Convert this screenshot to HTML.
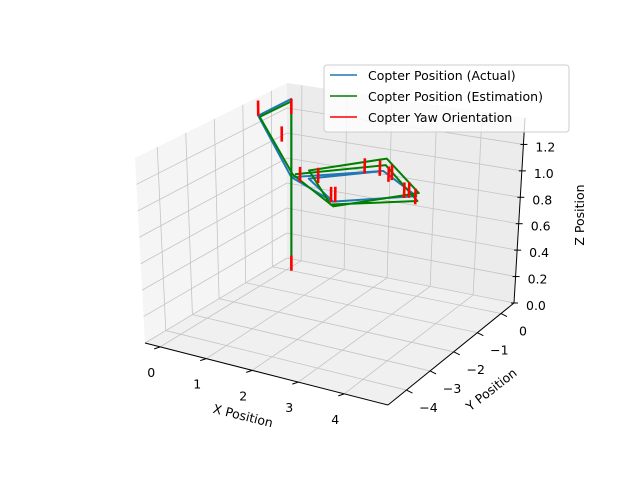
<!DOCTYPE html>
<html><head><meta charset="utf-8"><style>
body{margin:0;background:#fff}
svg text{font-family:"DejaVu Sans","Liberation Sans",sans-serif;font-size:12.5px;fill:#000}
</style></head><body>
<svg id="chart" width="640" height="480" viewBox="0 0 640 480" xmlns="http://www.w3.org/2000/svg">
<g id="panes"></g>
<g id="grid"></g>
<g id="axes"></g>
<g id="series"></g>
<g id="legend">
<rect x="324" y="65" width="245" height="67" rx="3" fill="#fff" fill-opacity="0.8" stroke="#ccc"/>
<line x1="330" y1="75" x2="357" y2="75" stroke="#1f77b4" stroke-width="1.5"/>
<text x="368" y="80">Copter Position (Actual)</text>
<line x1="330" y1="96" x2="357" y2="96" stroke="#008000" stroke-width="1.5"/>
<text x="368" y="101">Copter Position (Estimation)</text>
<line x1="330" y1="117" x2="357" y2="117" stroke="#ff0000" stroke-width="1.5"/>
<text x="368" y="122">Copter Yaw Orientation</text>
</g>
</svg>
<script>
const xTicks=[0,1,2,3,4];
const yTicks=[-4,-3,-2,-1,0];
const zTicks=[0,0.2,0.4,0.6,0.8,1.0,1.2];
const zTickLabels=["0.0","0.2","0.4","0.6","0.8","1.0","1.2"];
const actX=[0.11,0.11,-0.14,0.11,1.57,2.87,1.57,0.49,1.57,2.87,1.57,0.11];
const actY=[0,0,-0.77,0,-0.88,0.09,1.02,0.02,-0.88,0.09,1.02,0];
const actZ=[0,1.36,1.3,0.74,0.75,0.75,0.75,0.75,0.75,0.75,0.75,0.74];
const estX=[0.11,0.11,-0.12,0.13,1.6,2.9,1.6,0.44,1.54,2.92,1.63,0.16];
const estY=[0,0,-0.75,0.02,-0.92,0.13,1.09,0.11,-0.92,0.05,1.01,0.05];
const estZ=[0,1.34,1.29,0.76,0.72,0.77,0.84,0.8,0.73,0.72,0.8,0.76];
const yawX=[0.11,0.11,-0.14,-0.06,0.33,0.67,1.45,1.52,1.2,1.54,1.87,1.88,2.6,2.68,2.9];
const yawY=[0,0,-0.77,-0.07,-0.04,0.07,-0.75,-0.71,0.93,0.94,0.72,0.83,0.08,0.13,0.0];
const yawZ=[0,1.24,1.3,1.02,0.72,0.72,0.72,0.72,0.72,0.72,0.72,0.72,0.72,0.72,0.7];
const yawLen=0.12;

const xr=[-0.33,4.95], yr=[-4.78,0.55], zr=[0,1.4];
const C={c000:[145,343],c100:[388,405],c110:[514,303],c010:[287,258],
         c001:[135,158],c101:[392,211],c111:[525,118],c011:[287,83]};
function lerp(a,b,t){return [a[0]+(b[0]-a[0])*t,a[1]+(b[1]-a[1])*t];}
function proj(x,y,z){
  const u=(x-xr[0])/(xr[1]-xr[0]), v=(y-yr[0])/(yr[1]-yr[0]), w=(z-zr[0])/(zr[1]-zr[0]);
  const b=lerp(lerp(C.c000,C.c100,u),lerp(C.c010,C.c110,u),v);
  const t=lerp(lerp(C.c001,C.c101,u),lerp(C.c011,C.c111,u),v);
  return lerp(b,t,w);
}
const NS="http://www.w3.org/2000/svg";
function mk(tag,attrs,parent){const e=document.createElementNS(NS,tag);for(const k in attrs)e.setAttribute(k,attrs[k]);parent.appendChild(e);return e;}
function poly(pts,parent,fill){return mk('polygon',{points:pts.map(p=>p.join(',')).join(' '),fill:fill,stroke:'none'},parent);}
const panes=document.getElementById('panes'),grid=document.getElementById('grid'),axes=document.getElementById('axes'),series=document.getElementById('series');

let p=poly([proj(xr[0],yr[0],0),proj(xr[1],yr[0],0),proj(xr[1],yr[1],0),proj(xr[0],yr[1],0)],panes,'#f0f0f0');


p=poly([proj(xr[0],yr[0],0),proj(xr[0],yr[1],0),proj(xr[0],yr[1],zr[1]),proj(xr[0],yr[0],zr[1])],panes,'#f5f5f5');


p=poly([proj(xr[0],yr[1],0),proj(xr[1],yr[1],0),proj(xr[1],yr[1],zr[1]),proj(xr[0],yr[1],zr[1])],panes,'#ececec');



function seg(a,b,parent,stroke,w){return mk('line',{x1:a[0],y1:a[1],x2:b[0],y2:b[1],stroke:stroke,'stroke-width':w},parent);}
xTicks.forEach(x=>{
  let l=seg(proj(x,yr[0],0),proj(x,yr[1],0),grid,'#c4c4c4',0.8);
  
  
  l=seg(proj(x,yr[1],0),proj(x,yr[1],zr[1]),grid,'#c4c4c4',0.8);
  
  
});
yTicks.forEach(y=>{
  let l=seg(proj(xr[0],y,0),proj(xr[1],y,0),grid,'#c4c4c4',0.8);
  
  
  l=seg(proj(xr[0],y,0),proj(xr[0],y,zr[1]),grid,'#c4c4c4',0.8);
  
  
});
zTicks.forEach(z=>{
  let l=seg(proj(xr[0],yr[0],z),proj(xr[0],yr[1],z),grid,'#c4c4c4',0.8);
  
  
  l=seg(proj(xr[0],yr[1],z),proj(xr[1],yr[1],z),grid,'#c4c4c4',0.8);
  
  
});

let a=seg(proj(xr[0],yr[0],0),proj(xr[1],yr[0],0),axes,'#000',1);


a=seg(proj(xr[1],yr[0],0),proj(xr[1],yr[1],0),axes,'#000',1);


a=seg(proj(xr[1],yr[1],0),proj(xr[1],yr[1],zr[1]),axes,'#000',1);



function txt(s,x,y,anchor,parent){const t=mk('text',{x:x,y:y,'text-anchor':anchor},parent);t.textContent=s;return t;}
xTicks.forEach(x=>{
  const q=proj(x,yr[0],0);
  let t=seg([q[0],q[1]],[q[0]-6,q[1]+2],axes,'#000',1);
  
  
  t=txt(String(x),q[0]-9,q[1]+30,'middle',axes);
  
  
});
yTicks.forEach(y=>{
  const q=proj(xr[1],y,0);
  let t=seg([q[0],q[1]],[q[0]+6,q[1]+3],axes,'#000',1);
  
  
  t=txt(y<0?'\u2212'+Math.abs(y):String(y),q[0]+22,q[1]+22,'middle',axes);
  
  
});
zTicks.forEach((z,i)=>{
  const q=proj(xr[1],yr[1],z);
  let t=seg([q[0]-3,q[1]],[q[0]+4,q[1]],axes,'#000',1);
  
  
  t=txt(zTickLabels[i],q[0]+12,q[1]+7,'start',axes);
  
  
});
let lab=mk('text',{x:242,y:420,'text-anchor':'middle',transform:'rotate(14 242 420)'},axes);
lab.textContent='X Position';


lab=mk('text',{x:494,y:393,'text-anchor':'middle',transform:'rotate(-38 494 393)'},axes);
lab.textContent='Y Position';


lab=mk('text',{x:584,y:215,'text-anchor':'middle',transform:'rotate(-90 584 215)'},axes);
lab.textContent='Z Position';



function path3(X,Y,Z,color){
  const pts=X.map((x,i)=>proj(x,Y[i],Z[i]));
  return mk('polyline',{points:pts.map(p=>p.join(',')).join(' '),fill:'none',stroke:color,'stroke-width':2,'stroke-linejoin':'round'},series);
}
let s=path3(actX,actY,actZ,'#1f77b4');


s=path3(estX,estY,estZ,'#008000');


yawX.forEach((x,i)=>{
  const l=seg(proj(x,yawY[i],yawZ[i]),proj(x,yawY[i],yawZ[i]+yawLen),series,'#ff0000',2.6);
  
  
});
</script>
</body></html>
